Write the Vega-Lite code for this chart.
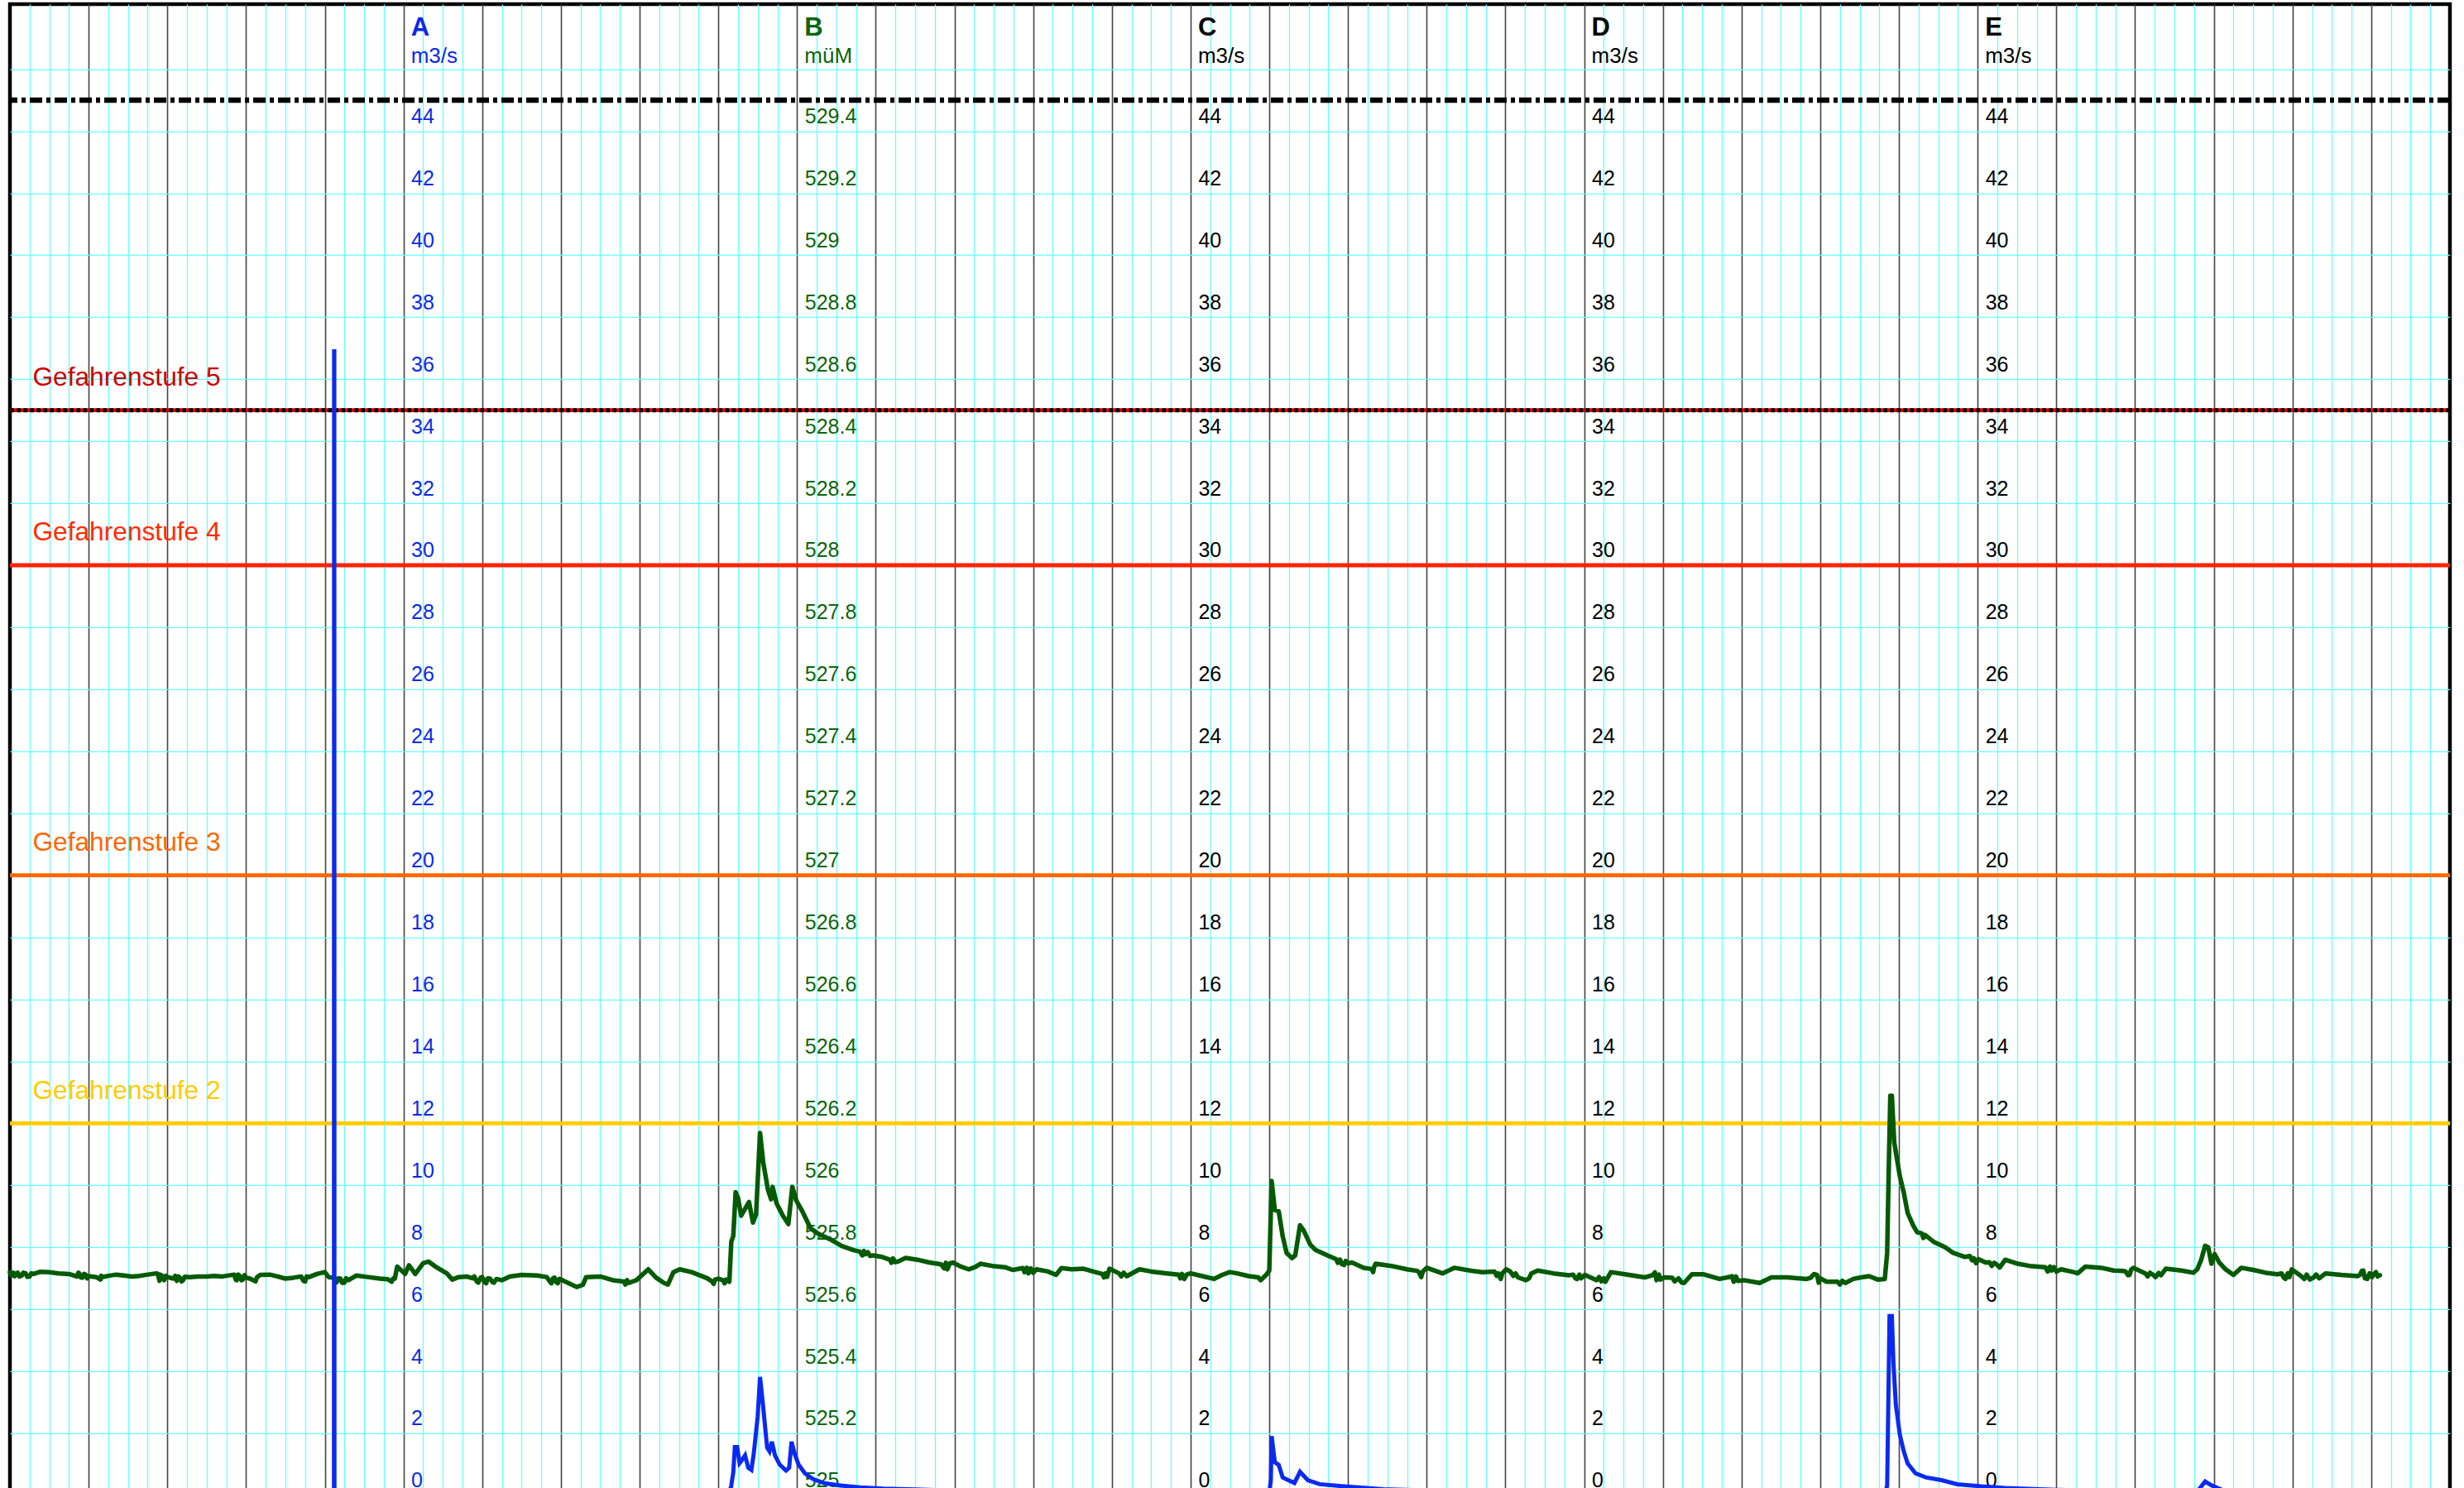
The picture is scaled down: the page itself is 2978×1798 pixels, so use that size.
{
  "$schema": "https://vega.github.io/schema/vega-lite/v6.json",
  "width": 2949,
  "height": 1802,
  "autosize": "none",
  "padding": {"left": 12, "top": 4.9, "right": 17, "bottom": 0},
  "background": "white",
  "config": {"view": {"stroke": "#000000", "strokeWidth": 4.5}},
  "datasets": {
    "headers": [
      {"axis": "A", "day": 5, "unit": "m3/s"},
      {"axis": "B", "day": 10, "unit": "müM"},
      {"axis": "C", "day": 15, "unit": "m3/s"},
      {"axis": "D", "day": 20, "unit": "m3/s"},
      {"axis": "E", "day": 25, "unit": "m3/s"}
    ],
    "thresholds": [
      {"stufe": "Gefahrenstufe 2", "q": 12},
      {"stufe": "Gefahrenstufe 3", "q": 20},
      {"stufe": "Gefahrenstufe 4", "q": 30},
      {"stufe": "Gefahrenstufe 5", "q": 35},
      {"stufe": "Maximum", "q": 45}
    ],
    "niveau": [
      {"day":0.00,"m":525.720},{"day":0.02,"m":525.709},{"day":0.04,"m":525.718},{"day":0.06,"m":525.707},{"day":0.08,"m":525.716},{"day":0.10,"m":525.718},{"day":0.12,"m":525.706},{"day":0.15,"m":525.709},{"day":0.17,"m":525.718},{"day":0.20,"m":525.716},{"day":0.22,"m":525.705},{"day":0.25,"m":525.706},{"day":0.27,"m":525.716},{"day":0.30,"m":525.714},{"day":0.38,"m":525.721},{"day":0.50,"m":525.720},{"day":0.62,"m":525.716},{"day":0.75,"m":525.714},{"day":0.85,"m":525.706},{"day":0.87,"m":525.718},{"day":0.88,"m":525.716},{"day":0.90,"m":525.703},{"day":0.92,"m":525.702},{"day":0.94,"m":525.714},{"day":0.96,"m":525.712},{"day":0.98,"m":525.700},{"day":1.00,"m":525.707},{"day":1.10,"m":525.704},{"day":1.15,"m":525.696},{"day":1.16,"m":525.708},{"day":1.18,"m":525.704},{"day":1.25,"m":525.708},{"day":1.35,"m":525.712},{"day":1.45,"m":525.709},{"day":1.55,"m":525.706},{"day":1.65,"m":525.708},{"day":1.70,"m":525.710},{"day":1.86,"m":525.716},{"day":1.88,"m":525.714},{"day":1.90,"m":525.692},{"day":1.91,"m":525.712},{"day":1.93,"m":525.709},{"day":1.96,"m":525.694},{"day":1.98,"m":525.708},{"day":2.00,"m":525.704},{"day":2.08,"m":525.699},{"day":2.10,"m":525.708},{"day":2.12,"m":525.692},{"day":2.14,"m":525.706},{"day":2.16,"m":525.702},{"day":2.18,"m":525.690},{"day":2.20,"m":525.694},{"day":2.22,"m":525.705},{"day":2.28,"m":525.704},{"day":2.39,"m":525.706},{"day":2.50,"m":525.706},{"day":2.60,"m":525.708},{"day":2.70,"m":525.706},{"day":2.85,"m":525.712},{"day":2.87,"m":525.695},{"day":2.88,"m":525.694},{"day":2.90,"m":525.712},{"day":2.92,"m":525.708},{"day":2.94,"m":525.694},{"day":2.96,"m":525.696},{"day":2.98,"m":525.710},{"day":3.00,"m":525.702},{"day":3.05,"m":525.699},{"day":3.12,"m":525.690},{"day":3.14,"m":525.704},{"day":3.18,"m":525.711},{"day":3.30,"m":525.712},{"day":3.40,"m":525.706},{"day":3.50,"m":525.699},{"day":3.60,"m":525.702},{"day":3.70,"m":525.706},{"day":3.73,"m":525.692},{"day":3.75,"m":525.690},{"day":3.77,"m":525.706},{"day":3.80,"m":525.704},{"day":3.90,"m":525.714},{"day":4.00,"m":525.720},{"day":4.05,"m":525.704},{"day":4.12,"m":525.702},{"day":4.15,"m":525.687},{"day":4.17,"m":525.700},{"day":4.20,"m":525.699},{"day":4.22,"m":525.686},{"day":4.25,"m":525.686},{"day":4.27,"m":525.700},{"day":4.30,"m":525.694},{"day":4.40,"m":525.709},{"day":4.55,"m":525.704},{"day":4.70,"m":525.699},{"day":4.80,"m":525.697},{"day":4.85,"m":525.689},{"day":4.87,"m":525.700},{"day":4.89,"m":525.699},{"day":4.92,"m":525.738},{"day":4.98,"m":525.724},{"day":5.02,"m":525.714},{"day":5.07,"m":525.742},{"day":5.15,"m":525.714},{"day":5.25,"m":525.749},{"day":5.32,"m":525.754},{"day":5.40,"m":525.739},{"day":5.55,"m":525.716},{"day":5.62,"m":525.696},{"day":5.70,"m":525.704},{"day":5.80,"m":525.706},{"day":5.88,"m":525.700},{"day":5.90,"m":525.706},{"day":5.93,"m":525.690},{"day":5.95,"m":525.686},{"day":5.98,"m":525.702},{"day":6.00,"m":525.704},{"day":6.03,"m":525.688},{"day":6.05,"m":525.684},{"day":6.07,"m":525.700},{"day":6.10,"m":525.699},{"day":6.13,"m":525.688},{"day":6.15,"m":525.686},{"day":6.18,"m":525.698},{"day":6.25,"m":525.694},{"day":6.35,"m":525.706},{"day":6.50,"m":525.711},{"day":6.70,"m":525.709},{"day":6.82,"m":525.704},{"day":6.86,"m":525.690},{"day":6.88,"m":525.684},{"day":6.90,"m":525.700},{"day":6.92,"m":525.702},{"day":6.94,"m":525.688},{"day":6.96,"m":525.684},{"day":6.98,"m":525.698},{"day":7.02,"m":525.694},{"day":7.12,"m":525.682},{"day":7.20,"m":525.672},{"day":7.28,"m":525.679},{"day":7.32,"m":525.704},{"day":7.50,"m":525.706},{"day":7.66,"m":525.694},{"day":7.80,"m":525.690},{"day":7.82,"m":525.680},{"day":7.84,"m":525.694},{"day":7.86,"m":525.685},{"day":7.96,"m":525.694},{"day":8.11,"m":525.729},{"day":8.21,"m":525.702},{"day":8.31,"m":525.685},{"day":8.36,"m":525.680},{"day":8.43,"m":525.720},{"day":8.51,"m":525.729},{"day":8.66,"m":525.720},{"day":8.86,"m":525.700},{"day":8.92,"m":525.690},{"day":8.94,"m":525.682},{"day":8.96,"m":525.696},{"day":9.00,"m":525.699},{"day":9.06,"m":525.694},{"day":9.08,"m":525.684},{"day":9.10,"m":525.696},{"day":9.14,"m":525.689},{"day":9.165,"m":525.818},{"day":9.19,"m":525.836},{"day":9.22,"m":525.978},{"day":9.25,"m":525.960},{"day":9.29,"m":525.902},{"day":9.34,"m":525.924},{"day":9.39,"m":525.946},{"day":9.44,"m":525.880},{"day":9.48,"m":525.907},{"day":9.53,"m":526.169},{"day":9.57,"m":526.075},{"day":9.63,"m":525.986},{"day":9.67,"m":525.955},{"day":9.69,"m":525.995},{"day":9.74,"m":525.942},{"day":9.82,"m":525.902},{"day":9.89,"m":525.875},{"day":9.94,"m":525.995},{"day":9.99,"m":525.951},{"day":10.07,"m":525.915},{"day":10.17,"m":525.862},{"day":10.27,"m":525.844},{"day":10.42,"m":525.826},{"day":10.57,"m":525.804},{"day":10.72,"m":525.791},{"day":10.80,"m":525.786},{"day":10.83,"m":525.774},{"day":10.85,"m":525.788},{"day":10.87,"m":525.778},{"day":10.90,"m":525.784},{"day":10.93,"m":525.772},{"day":10.97,"m":525.774},{"day":11.08,"m":525.769},{"day":11.18,"m":525.760},{"day":11.20,"m":525.750},{"day":11.22,"m":525.764},{"day":11.25,"m":525.752},{"day":11.28,"m":525.754},{"day":11.38,"m":525.766},{"day":11.53,"m":525.760},{"day":11.68,"m":525.751},{"day":11.83,"m":525.745},{"day":11.87,"m":525.732},{"day":11.89,"m":525.750},{"day":11.91,"m":525.729},{"day":11.94,"m":525.748},{"day":11.98,"m":525.751},{"day":12.08,"m":525.738},{"day":12.18,"m":525.729},{"day":12.26,"m":525.736},{"day":12.33,"m":525.747},{"day":12.48,"m":525.740},{"day":12.64,"m":525.736},{"day":12.74,"m":525.727},{"day":12.87,"m":525.733},{"day":12.89,"m":525.720},{"day":12.92,"m":525.734},{"day":12.94,"m":525.716},{"day":12.97,"m":525.732},{"day":13.00,"m":525.718},{"day":13.04,"m":525.729},{"day":13.19,"m":525.722},{"day":13.29,"m":525.711},{"day":13.36,"m":525.733},{"day":13.49,"m":525.729},{"day":13.64,"m":525.731},{"day":13.79,"m":525.720},{"day":13.88,"m":525.714},{"day":13.90,"m":525.703},{"day":13.92,"m":525.716},{"day":13.94,"m":525.705},{"day":13.97,"m":525.731},{"day":14.09,"m":525.716},{"day":14.12,"m":525.706},{"day":14.15,"m":525.718},{"day":14.19,"m":525.707},{"day":14.35,"m":525.729},{"day":14.50,"m":525.722},{"day":14.70,"m":525.716},{"day":14.85,"m":525.712},{"day":14.87,"m":525.700},{"day":14.89,"m":525.714},{"day":14.92,"m":525.698},{"day":14.95,"m":525.712},{"day":15.00,"m":525.716},{"day":15.15,"m":525.707},{"day":15.30,"m":525.698},{"day":15.40,"m":525.711},{"day":15.50,"m":525.720},{"day":15.59,"m":525.716},{"day":15.74,"m":525.707},{"day":15.86,"m":525.703},{"day":15.89,"m":525.694},{"day":15.96,"m":525.711},{"day":16.00,"m":525.725},{"day":16.03,"m":526.014},{"day":16.07,"m":525.920},{"day":16.12,"m":525.916},{"day":16.17,"m":525.836},{"day":16.22,"m":525.782},{"day":16.29,"m":525.765},{"day":16.33,"m":525.774},{"day":16.39,"m":525.871},{"day":16.44,"m":525.853},{"day":16.52,"m":525.809},{"day":16.59,"m":525.791},{"day":16.74,"m":525.774},{"day":16.85,"m":525.762},{"day":16.87,"m":525.750},{"day":16.90,"m":525.760},{"day":16.92,"m":525.746},{"day":16.95,"m":525.743},{"day":16.97,"m":525.756},{"day":17.00,"m":525.748},{"day":17.05,"m":525.751},{"day":17.20,"m":525.734},{"day":17.30,"m":525.730},{"day":17.32,"m":525.720},{"day":17.33,"m":525.735},{"day":17.35,"m":525.747},{"day":17.55,"m":525.740},{"day":17.75,"m":525.729},{"day":17.88,"m":525.724},{"day":17.90,"m":525.720},{"day":17.93,"m":525.704},{"day":17.95,"m":525.722},{"day":18.00,"m":525.734},{"day":18.20,"m":525.716},{"day":18.35,"m":525.734},{"day":18.55,"m":525.725},{"day":18.71,"m":525.720},{"day":18.86,"m":525.722},{"day":18.89,"m":525.708},{"day":18.91,"m":525.716},{"day":18.94,"m":525.698},{"day":18.96,"m":525.716},{"day":19.01,"m":525.729},{"day":19.06,"m":525.722},{"day":19.10,"m":525.708},{"day":19.13,"m":525.716},{"day":19.16,"m":525.703},{"day":19.26,"m":525.694},{"day":19.30,"m":525.700},{"day":19.33,"m":525.716},{"day":19.41,"m":525.725},{"day":19.61,"m":525.716},{"day":19.81,"m":525.710},{"day":19.86,"m":525.712},{"day":19.89,"m":525.700},{"day":19.91,"m":525.698},{"day":19.94,"m":525.712},{"day":19.96,"m":525.700},{"day":20.01,"m":525.711},{"day":20.16,"m":525.694},{"day":20.19,"m":525.704},{"day":20.22,"m":525.690},{"day":20.25,"m":525.700},{"day":20.27,"m":525.689},{"day":20.34,"m":525.720},{"day":20.52,"m":525.713},{"day":20.77,"m":525.703},{"day":20.87,"m":525.710},{"day":20.90,"m":525.719},{"day":20.92,"m":525.694},{"day":20.95,"m":525.712},{"day":20.97,"m":525.696},{"day":21.02,"m":525.703},{"day":21.12,"m":525.702},{"day":21.15,"m":525.690},{"day":21.17,"m":525.694},{"day":21.20,"m":525.700},{"day":21.24,"m":525.686},{"day":21.27,"m":525.685},{"day":21.37,"m":525.713},{"day":21.52,"m":525.713},{"day":21.72,"m":525.698},{"day":21.86,"m":525.705},{"day":21.88,"m":525.707},{"day":21.90,"m":525.689},{"day":21.93,"m":525.706},{"day":21.95,"m":525.692},{"day":22.03,"m":525.694},{"day":22.23,"m":525.685},{"day":22.38,"m":525.703},{"day":22.58,"m":525.703},{"day":22.83,"m":525.698},{"day":22.88,"m":525.702},{"day":22.92,"m":525.714},{"day":22.96,"m":525.711},{"day":22.98,"m":525.686},{"day":23.00,"m":525.700},{"day":23.08,"m":525.689},{"day":23.22,"m":525.689},{"day":23.25,"m":525.680},{"day":23.28,"m":525.692},{"day":23.32,"m":525.685},{"day":23.42,"m":525.698},{"day":23.52,"m":525.703},{"day":23.62,"m":525.707},{"day":23.73,"m":525.696},{"day":23.82,"m":525.698},{"day":23.85,"m":525.782},{"day":23.87,"m":526.049},{"day":23.89,"m":526.289},{"day":23.91,"m":526.289},{"day":23.94,"m":526.138},{"day":24.01,"m":526.031},{"day":24.06,"m":525.978},{"day":24.11,"m":525.911},{"day":24.18,"m":525.871},{"day":24.23,"m":525.849},{"day":24.29,"m":525.845},{"day":24.31,"m":525.830},{"day":24.33,"m":525.840},{"day":24.44,"m":525.818},{"day":24.59,"m":525.800},{"day":24.69,"m":525.782},{"day":24.84,"m":525.769},{"day":24.90,"m":525.772},{"day":24.93,"m":525.758},{"day":24.95,"m":525.765},{"day":24.98,"m":525.749},{"day":25.01,"m":525.762},{"day":25.10,"m":525.751},{"day":25.15,"m":525.752},{"day":25.18,"m":525.740},{"day":25.21,"m":525.750},{"day":25.25,"m":525.743},{"day":25.28,"m":525.735},{"day":25.35,"m":525.760},{"day":25.51,"m":525.747},{"day":25.66,"m":525.740},{"day":25.86,"m":525.736},{"day":25.89,"m":525.722},{"day":25.92,"m":525.738},{"day":25.94,"m":525.725},{"day":25.97,"m":525.736},{"day":26.00,"m":525.722},{"day":26.06,"m":525.729},{"day":26.22,"m":525.720},{"day":26.27,"m":525.716},{"day":26.37,"m":525.738},{"day":26.57,"m":525.734},{"day":26.73,"m":525.725},{"day":26.85,"m":525.724},{"day":26.88,"m":525.722},{"day":26.91,"m":525.710},{"day":26.93,"m":525.711},{"day":26.95,"m":525.728},{"day":26.98,"m":525.734},{"day":27.13,"m":525.716},{"day":27.16,"m":525.706},{"day":27.19,"m":525.718},{"day":27.23,"m":525.711},{"day":27.26,"m":525.704},{"day":27.30,"m":525.717},{"day":27.33,"m":525.710},{"day":27.39,"m":525.731},{"day":27.59,"m":525.725},{"day":27.74,"m":525.718},{"day":27.79,"m":525.729},{"day":27.84,"m":525.760},{"day":27.89,"m":525.805},{"day":27.93,"m":525.800},{"day":27.97,"m":525.747},{"day":28.01,"m":525.778},{"day":28.07,"m":525.751},{"day":28.15,"m":525.729},{"day":28.25,"m":525.711},{"day":28.35,"m":525.734},{"day":28.50,"m":525.727},{"day":28.66,"m":525.718},{"day":28.81,"m":525.713},{"day":28.86,"m":525.716},{"day":28.89,"m":525.702},{"day":28.91,"m":525.698},{"day":28.94,"m":525.716},{"day":28.96,"m":525.704},{"day":28.99,"m":525.729},{"day":29.11,"m":525.707},{"day":29.15,"m":525.698},{"day":29.18,"m":525.712},{"day":29.22,"m":525.696},{"day":29.27,"m":525.703},{"day":29.30,"m":525.712},{"day":29.34,"m":525.700},{"day":29.42,"m":525.716},{"day":29.62,"m":525.711},{"day":29.83,"m":525.707},{"day":29.86,"m":525.712},{"day":29.88,"m":525.724},{"day":29.90,"m":525.725},{"day":29.92,"m":525.700},{"day":29.95,"m":525.698},{"day":29.98,"m":525.716},{"day":30.01,"m":525.704},{"day":30.03,"m":525.713},{"day":30.06,"m":525.720},{"day":30.08,"m":525.706},{"day":30.11,"m":525.710}
    ],
    "abfluss": [
      {"day":0.00,"q":0.10},{"day":1.00,"q":0.10},{"day":2.00,"q":0.08},{"day":3.00,"q":0.08},{"day":4.00,"q":0.07},{"day":4.117,"q":0.07},{"day":4.119,"q":36.9},{"day":4.121,"q":36.9},{"day":4.123,"q":0.07},{"day":5.00,"q":0.10},{"day":6.00,"q":0.08},{"day":7.00,"q":0.07},{"day":8.00,"q":0.08},{"day":8.12,"q":0.12},{"day":9.00,"q":0.07},{"day":9.10,"q":0.05},{"day":9.16,"q":0.24},{"day":9.19,"q":0.74},{"day":9.21,"q":1.56},{"day":9.24,"q":1.56},{"day":9.27,"q":1.04},{"day":9.30,"q":1.14},{"day":9.34,"q":1.29},{"day":9.38,"q":0.89},{"day":9.42,"q":0.82},{"day":9.45,"q":1.34},{"day":9.50,"q":2.54},{"day":9.53,"q":3.82},{"day":9.57,"q":2.85},{"day":9.62,"q":1.54},{"day":9.65,"q":1.42},{"day":9.68,"q":1.73},{"day":9.72,"q":1.29},{"day":9.78,"q":0.99},{"day":9.86,"q":0.80},{"day":9.90,"q":0.89},{"day":9.93,"q":1.73},{"day":9.97,"q":1.34},{"day":10.02,"q":0.99},{"day":10.10,"q":0.71},{"day":10.20,"q":0.53},{"day":10.35,"q":0.39},{"day":10.55,"q":0.32},{"day":10.80,"q":0.26},{"day":11.10,"q":0.22},{"day":11.50,"q":0.19},{"day":12.00,"q":0.15},{"day":12.50,"q":0.12},{"day":13.00,"q":0.10},{"day":14.00,"q":0.08},{"day":15.00,"q":0.07},{"day":16.00,"q":0.06},{"day":16.02,"q":0.50},{"day":16.03,"q":1.91},{"day":16.07,"q":1.07},{"day":16.12,"q":0.98},{"day":16.17,"q":0.58},{"day":16.24,"q":0.49},{"day":16.32,"q":0.40},{"day":16.39,"q":0.76},{"day":16.49,"q":0.49},{"day":16.64,"q":0.36},{"day":16.95,"q":0.29},{"day":17.45,"q":0.20},{"day":18.00,"q":0.16},{"day":19.00,"q":0.12},{"day":20.00,"q":0.10},{"day":21.00,"q":0.09},{"day":22.00,"q":0.08},{"day":23.00,"q":0.07},{"day":23.82,"q":0.07},{"day":23.85,"q":0.30},{"day":23.88,"q":5.78},{"day":23.91,"q":5.78},{"day":23.93,"q":4.27},{"day":23.96,"q":2.93},{"day":24.01,"q":1.97},{"day":24.06,"q":1.43},{"day":24.11,"q":1.03},{"day":24.21,"q":0.71},{"day":24.34,"q":0.58},{"day":24.54,"q":0.49},{"day":24.74,"q":0.36},{"day":25.05,"q":0.29},{"day":25.35,"q":0.24},{"day":26.00,"q":0.18},{"day":27.00,"q":0.13},{"day":27.79,"q":0.12},{"day":27.89,"q":0.45},{"day":27.97,"q":0.32},{"day":28.10,"q":0.18},{"day":28.50,"q":0.12},{"day":29.50,"q":0.10},{"day":30.11,"q":0.08}
    ]
  },
  "resolve": {
    "scale": {"y": "independent", "color": "independent", "strokeDash": "independent"},
    "axis": {"x": "independent", "y": "independent"}
  },
  "layer": [
    {
      "data": {"name": "thresholds"},
      "transform": [{"filter": "datum.stufe != 'Maximum'"}],
      "mark": {"type": "rule", "strokeWidth": 4.8},
      "encoding": {
        "y": {"field": "q", "type": "quantitative", "scale": {"domain": [0, 48.1], "nice": false, "zero": false},
              "axis": {"orient": "left", "grid": true, "gridColor": "#66ffff", "gridWidth": 1.4, "gridOpacity": 1,
                       "values": [2,4,6,8,10,12,14,16,18,20,22,24,26,28,30,32,34,36,38,40,42,44,46],
                       "labels": false, "ticks": false, "domain": false, "title": null}},
        "color": {"field": "stufe", "type": "nominal", "legend": null,
                  "scale": {"domain": ["Gefahrenstufe 2","Gefahrenstufe 3","Gefahrenstufe 4","Gefahrenstufe 5"],
                            "range": ["#ffcc00","#ff6600","#ff2200","#dd0000"]}}
      }
    },
    {
      "data": {"name": "thresholds"},
      "transform": [{"filter": "datum.q >= 35"}],
      "mark": {"type": "rule", "color": "#000000", "strokeCap": "butt"},
      "encoding": {
        "y": {"field": "q", "type": "quantitative", "scale": {"domain": [0, 48.1], "nice": false, "zero": false}, "axis": null},
        "strokeDash": {"field": "stufe", "type": "nominal", "legend": null,
                       "scale": {"domain": ["Gefahrenstufe 5","Maximum"], "range": [[4.5,3.5],[15,5,5,5]]}},
        "strokeWidth": {"field": "stufe", "type": "nominal", "legend": null,
                        "scale": {"domain": ["Gefahrenstufe 5","Maximum"], "range": [5, 6.5]}}
      }
    },
    {
      "data": {"name": "thresholds"},
      "transform": [{"filter": "datum.stufe != 'Maximum'"}],
      "mark": {"type": "text", "align": "left", "baseline": "alphabetic", "dx": 27.4, "dy": -29.5,
               "font": "Liberation Sans", "fontSize": 31.7},
      "encoding": {
        "x": {"datum": 0, "type": "quantitative", "scale": {"domain": [0, 31], "nice": false, "zero": false}, "axis": null},
        "y": {"field": "q", "type": "quantitative", "scale": {"domain": [0, 48.1], "nice": false, "zero": false}, "axis": null},
        "text": {"field": "stufe"},
        "color": {"field": "stufe", "type": "nominal", "legend": null,
                  "scale": {"domain": ["Gefahrenstufe 2","Gefahrenstufe 3","Gefahrenstufe 4","Gefahrenstufe 5"],
                            "range": ["#ffcc00","#ff6600","#ff2a00","#cc0000"]}}
      }
    },
    {
      "data": {"name": "headers"},
      "transform": [{"filter": "datum.axis == 'A'"}],
      "mark": {"type": "text", "align": "left", "baseline": "alphabetic", "dx": 9, "dy": 38.4,
               "font": "Liberation Sans", "fontSize": 31, "fontWeight": "bold", "color": "#0a2ae6"},
      "encoding": {
        "x": {"field": "day", "type": "quantitative", "scale": {"domain": [0, 31], "nice": false, "zero": false}, "axis": null},
        "y": {"datum": 48.1, "type": "quantitative", "scale": {"domain": [0, 48.1], "nice": false, "zero": false},
              "axis": {"orient": "right", "offset": -2473.4, "grid": false, "ticks": false, "tickSize": 0, "domain": false, "title": null,
                       "values": [0,2,4,6,8,10,12,14,16,18,20,22,24,26,28,30,32,34,36,38,40,42,44], "format": "d",
                       "labelFont": "Liberation Sans", "labelFontSize": 25, "labelColor": "#0a2ae6", "labelPadding": 9,
                       "labelAlign": "left", "labelBaseline": "alphabetic", "labelOffset": -10,
                       "labelFlush": false, "labelOverlap": false, "labelBound": false}},
        "text": {"field": "axis"}
      }
    },
    {
      "data": {"name": "headers"},
      "transform": [{"filter": "datum.axis == 'B'"}],
      "mark": {"type": "text", "align": "left", "baseline": "alphabetic", "dx": 9, "dy": 38.4,
               "font": "Liberation Sans", "fontSize": 31, "fontWeight": "bold", "color": "#0b650b"},
      "encoding": {
        "x": {"field": "day", "type": "quantitative", "scale": {"domain": [0, 31], "nice": false, "zero": false}, "axis": null},
        "y": {"datum": 529.81, "type": "quantitative", "scale": {"domain": [525, 529.81], "nice": false, "zero": false},
              "axis": {"orient": "right", "offset": -1997.7, "grid": false, "ticks": false, "tickSize": 0, "domain": false, "title": null,
                       "values": [525,525.2,525.4,525.6,525.8,526,526.2,526.4,526.6,526.8,527,527.2,527.4,527.6,527.8,528,528.2,528.4,528.6,528.8,529,529.2,529.4],
                       "format": ".4~r",
                       "labelFont": "Liberation Sans", "labelFontSize": 25, "labelColor": "#0b650b", "labelPadding": 9,
                       "labelAlign": "left", "labelBaseline": "alphabetic", "labelOffset": -10,
                       "labelFlush": false, "labelOverlap": false, "labelBound": false}},
        "text": {"field": "axis"}
      }
    },
    {
      "data": {"name": "headers"},
      "transform": [{"filter": "datum.axis == 'C'"}],
      "mark": {"type": "text", "align": "left", "baseline": "alphabetic", "dx": 9, "dy": 38.4,
               "font": "Liberation Sans", "fontSize": 31, "fontWeight": "bold", "color": "#000000"},
      "encoding": {
        "x": {"field": "day", "type": "quantitative", "scale": {"domain": [0, 31], "nice": false, "zero": false}, "axis": null},
        "y": {"datum": 48.1, "type": "quantitative", "scale": {"domain": [0, 48.1], "nice": false, "zero": false},
              "axis": {"orient": "right", "offset": -1522.1, "grid": false, "ticks": false, "tickSize": 0, "domain": false, "title": null,
                       "values": [0,2,4,6,8,10,12,14,16,18,20,22,24,26,28,30,32,34,36,38,40,42,44], "format": "d",
                       "labelFont": "Liberation Sans", "labelFontSize": 25, "labelColor": "#000000", "labelPadding": 9,
                       "labelAlign": "left", "labelBaseline": "alphabetic", "labelOffset": -10,
                       "labelFlush": false, "labelOverlap": false, "labelBound": false}},
        "text": {"field": "axis"}
      }
    },
    {
      "data": {"name": "headers"},
      "transform": [{"filter": "datum.axis == 'D'"}],
      "mark": {"type": "text", "align": "left", "baseline": "alphabetic", "dx": 9, "dy": 38.4,
               "font": "Liberation Sans", "fontSize": 31, "fontWeight": "bold", "color": "#000000"},
      "encoding": {
        "x": {"field": "day", "type": "quantitative", "scale": {"domain": [0, 31], "nice": false, "zero": false}, "axis": null},
        "y": {"datum": 48.1, "type": "quantitative", "scale": {"domain": [0, 48.1], "nice": false, "zero": false},
              "axis": {"orient": "right", "offset": -1046.4, "grid": false, "ticks": false, "tickSize": 0, "domain": false, "title": null,
                       "values": [0,2,4,6,8,10,12,14,16,18,20,22,24,26,28,30,32,34,36,38,40,42,44], "format": "d",
                       "labelFont": "Liberation Sans", "labelFontSize": 25, "labelColor": "#000000", "labelPadding": 9,
                       "labelAlign": "left", "labelBaseline": "alphabetic", "labelOffset": -10,
                       "labelFlush": false, "labelOverlap": false, "labelBound": false}},
        "text": {"field": "axis"}
      }
    },
    {
      "data": {"name": "headers"},
      "transform": [{"filter": "datum.axis == 'E'"}],
      "mark": {"type": "text", "align": "left", "baseline": "alphabetic", "dx": 9, "dy": 38.4,
               "font": "Liberation Sans", "fontSize": 31, "fontWeight": "bold", "color": "#000000"},
      "encoding": {
        "x": {"field": "day", "type": "quantitative", "scale": {"domain": [0, 31], "nice": false, "zero": false}, "axis": null},
        "y": {"datum": 48.1, "type": "quantitative", "scale": {"domain": [0, 48.1], "nice": false, "zero": false},
              "axis": {"orient": "right", "offset": -570.8, "grid": false, "ticks": false, "tickSize": 0, "domain": false, "title": null,
                       "values": [0,2,4,6,8,10,12,14,16,18,20,22,24,26,28,30,32,34,36,38,40,42,44], "format": "d",
                       "labelFont": "Liberation Sans", "labelFontSize": 25, "labelColor": "#000000", "labelPadding": 9,
                       "labelAlign": "left", "labelBaseline": "alphabetic", "labelOffset": -10,
                       "labelFlush": false, "labelOverlap": false, "labelBound": false}},
        "text": {"field": "axis"}
      }
    },
    {
      "data": {"name": "headers"},
      "mark": {"type": "text", "align": "left", "baseline": "alphabetic", "dx": 9, "dy": 71.1,
               "font": "Liberation Sans", "fontSize": 26},
      "encoding": {
        "x": {"field": "day", "type": "quantitative", "scale": {"domain": [0, 31], "nice": false, "zero": false}, "axis": null},
        "y": {"datum": 48.1, "type": "quantitative", "scale": {"domain": [0, 48.1], "nice": false, "zero": false}, "axis": null},
        "text": {"field": "unit"},
        "color": {"field": "axis", "type": "nominal", "legend": null,
                  "scale": {"domain": ["A","B","C","D","E"], "range": ["#0a2ae6","#0b650b","#000000","#000000","#000000"]}}
      }
    },
    {
      "data": {"name": "niveau"},
      "mark": {"type": "line", "color": "#055a05", "strokeWidth": 5.5, "strokeJoin": "round", "strokeCap": "round"},
      "encoding": {
        "x": {"field": "day", "type": "quantitative", "scale": {"domain": [0, 31], "nice": false, "zero": false},
              "axis": {"orient": "bottom", "grid": true, "gridColor": "#66ffff", "gridWidth": 1.3, "gridOpacity": 1,
                       "values": [0.25,0.5,0.75,1.25,1.5,1.75,2.25,2.5,2.75,3.25,3.5,3.75,4.25,4.5,4.75,5.25,5.5,5.75,6.25,6.5,6.75,7.25,7.5,7.75,8.25,8.5,8.75,9.25,9.5,9.75,10.25,10.5,10.75,11.25,11.5,11.75,12.25,12.5,12.75,13.25,13.5,13.75,14.25,14.5,14.75,15.25,15.5,15.75,16.25,16.5,16.75,17.25,17.5,17.75,18.25,18.5,18.75,19.25,19.5,19.75,20.25,20.5,20.75,21.25,21.5,21.75,22.25,22.5,22.75,23.25,23.5,23.75,24.25,24.5,24.75,25.25,25.5,25.75,26.25,26.5,26.75,27.25,27.5,27.75,28.25,28.5,28.75,29.25,29.5,29.75,30.25,30.5,30.75],
                       "labels": false, "ticks": false, "domain": false, "title": null}},
        "y": {"field": "m", "type": "quantitative", "scale": {"domain": [525, 529.81], "nice": false, "zero": false}, "axis": null}
      }
    },
    {
      "data": {"name": "abfluss"},
      "mark": {"type": "line", "color": "#0a2af0", "strokeWidth": 5, "strokeJoin": "miter", "strokeCap": "butt"},
      "encoding": {
        "x": {"field": "day", "type": "quantitative", "scale": {"domain": [0, 31], "nice": false, "zero": false},
              "axis": {"orient": "bottom", "grid": true, "gridColor": "#444444", "gridWidth": 1.6, "gridOpacity": 1,
                       "values": [1,2,3,4,5,6,7,8,9,10,11,12,13,14,15,16,17,18,19,20,21,22,23,24,25,26,27,28,29,30],
                       "labels": false, "ticks": false, "domain": false, "title": null}},
        "y": {"field": "q", "type": "quantitative", "scale": {"domain": [0, 48.1], "nice": false, "zero": false}, "axis": null}
      }
    }
  ]
}
